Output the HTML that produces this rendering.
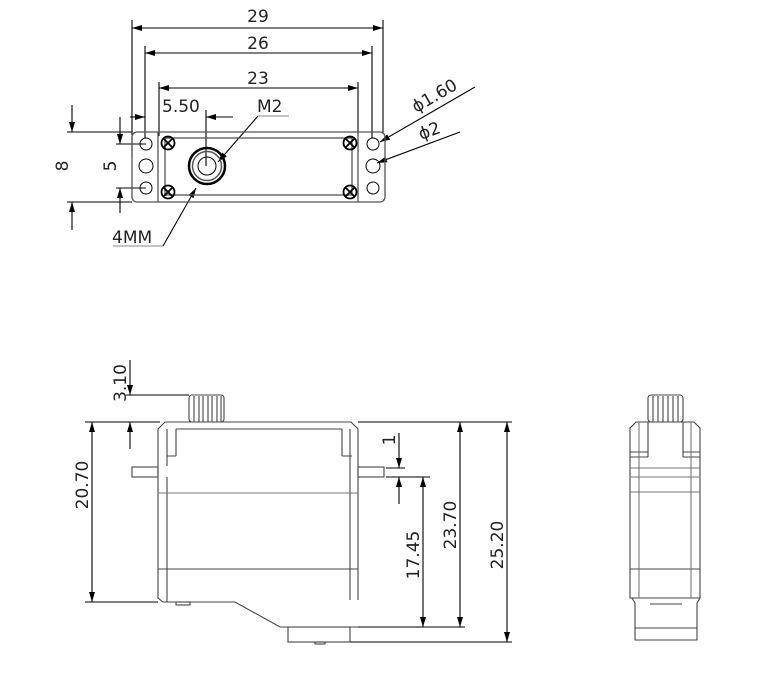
<!DOCTYPE html>
<html><head><meta charset="utf-8"><style>html,body{margin:0;padding:0;background:#fff}svg{display:block}</style></head><body>
<svg width="765" height="677" viewBox="0 0 765 677" xmlns="http://www.w3.org/2000/svg" font-family="'DejaVu Sans','Liberation Sans',sans-serif" font-size="17" fill="none">
<defs>
<marker id="a" viewBox="0 0 10 6" refX="10" refY="3" markerWidth="11" markerHeight="6" orient="auto-start-reverse" markerUnits="userSpaceOnUse"><path d="M0,0L10,3L0,6z" fill="#000"/></marker>
</defs>
<g stroke="#000" stroke-width="1.1">
<line x1="132" y1="28" x2="383" y2="28" marker-start="url(#a)" marker-end="url(#a)"/>
<line x1="145" y1="53" x2="372" y2="53" marker-start="url(#a)" marker-end="url(#a)"/>
<line x1="159" y1="88" x2="358" y2="88" marker-start="url(#a)" marker-end="url(#a)"/>
<line x1="132" y1="20" x2="132" y2="158"/><line x1="383" y1="20" x2="383" y2="134"/>
<line x1="145" y1="46" x2="145" y2="138"/><line x1="372" y1="46" x2="372" y2="138"/>
<line x1="159" y1="82" x2="159" y2="136"/><line x1="358" y1="82" x2="358" y2="136"/>
<line x1="130" y1="117" x2="145" y2="117" marker-end="url(#a)"/>
<line x1="233" y1="117" x2="206" y2="117" marker-end="url(#a)"/>
<line x1="206" y1="110" x2="206" y2="166"/>
<line x1="72" y1="105" x2="72" y2="132" marker-end="url(#a)"/>
<line x1="72" y1="230" x2="72" y2="202" marker-end="url(#a)"/>
<line x1="67" y1="132" x2="132" y2="132"/><line x1="67" y1="202" x2="132" y2="202"/>
<line x1="120" y1="117" x2="120" y2="144" marker-end="url(#a)"/>
<line x1="120" y1="213" x2="120" y2="188" marker-end="url(#a)"/>
<line x1="116" y1="144" x2="146" y2="144"/><line x1="116" y1="188" x2="146" y2="188"/>
<line x1="258" y1="116" x2="218" y2="162" marker-end="url(#a)"/><line x1="258" y1="116" x2="289" y2="116" stroke="#888"/>
<line x1="163" y1="246" x2="196" y2="188" marker-end="url(#a)"/><line x1="113" y1="246" x2="163" y2="246" stroke="#888"/>
<line x1="475" y1="87" x2="380" y2="142" marker-end="url(#a)"/>
<line x1="460" y1="132" x2="377" y2="163" marker-end="url(#a)"/>
</g>
<g stroke="#555" stroke-width="1.3">
<rect x="132" y="132" width="253" height="70" rx="5"/>
<line x1="158" y1="132" x2="158" y2="202"/><line x1="358" y1="132" x2="358" y2="202"/>
<rect x="165" y="138" width="187" height="57"/>
</g>
<g stroke="#000" stroke-width="1">
<circle cx="146" cy="144" r="6"/><circle cx="146" cy="166" r="7"/><circle cx="146" cy="188" r="6"/>
<circle cx="373" cy="144" r="6"/><circle cx="373" cy="166" r="7"/><circle cx="373" cy="188" r="6"/>
</g>
<g stroke="#000" stroke-width="1.8">
<g><circle cx="168" cy="143" r="6.5"/><path d="M164,139l8,8M172,139l-8,8"/></g>
<g><circle cx="168" cy="192" r="6.5"/><path d="M164,188l8,8M172,188l-8,8"/></g>
<g><circle cx="350" cy="143" r="6.5"/><path d="M346,139l8,8M354,139l-8,8"/></g>
<g><circle cx="350" cy="192" r="6.5"/><path d="M346,188l8,8M354,188l-8,8"/></g>
<circle cx="207" cy="166" r="18" stroke-width="2.5"/>
<circle cx="207" cy="166" r="14.5" stroke-width="1.5" stroke="#555"/>
<circle cx="207" cy="166" r="9" stroke-width="1"/>
</g>
<g fill="#222" stroke="none">
<text x="258" y="22" text-anchor="middle">29</text>
<text x="258" y="49" text-anchor="middle">26</text>
<text x="258" y="84" text-anchor="middle">23</text>
<text x="162" y="112">5.50</text>
<text x="257" y="112">M2</text>
<text x="112" y="243">4MM</text>
<text transform="translate(68,166) rotate(-90)" text-anchor="middle">8</text>
<text transform="translate(116,166) rotate(-90)" text-anchor="middle">5</text>
<text transform="translate(416,113) rotate(-30)">ϕ1.60</text>
<text transform="translate(421,140) rotate(-20)">ϕ2</text>
</g>
<g stroke="#000" stroke-width="1.1">
<line x1="130" y1="360" x2="130" y2="395" marker-end="url(#a)"/>
<line x1="130" y1="449" x2="130" y2="422" marker-end="url(#a)"/>
<line x1="126" y1="395" x2="189" y2="395"/>
<line x1="85" y1="422" x2="160" y2="422"/>
<line x1="92" y1="422" x2="92" y2="602" marker-start="url(#a)" marker-end="url(#a)"/>
<line x1="85" y1="602" x2="158" y2="602"/>
<line x1="399" y1="433" x2="399" y2="468" marker-end="url(#a)"/>
<line x1="399" y1="504" x2="399" y2="477" marker-end="url(#a)"/>
<line x1="386" y1="468" x2="405" y2="468"/><line x1="386" y1="477" x2="430" y2="477"/>
<line x1="423" y1="477" x2="423" y2="627" marker-start="url(#a)" marker-end="url(#a)"/>
<line x1="460" y1="422" x2="460" y2="627" marker-start="url(#a)" marker-end="url(#a)"/>
<line x1="507" y1="422" x2="507" y2="642" marker-start="url(#a)" marker-end="url(#a)"/>
<line x1="358" y1="422" x2="512" y2="422"/>
<line x1="358" y1="627" x2="465" y2="627"/>
<line x1="350" y1="642" x2="512" y2="642"/>
</g>
<g stroke="#444" stroke-width="1.1">
<rect x="189" y="395" width="35" height="27" rx="3"/>
<path d="M194,396v26M199,396v26M203,396v26M208,396v26M212,396v26M217,396v26M221,396v26"/>
<path d="M165,422H351L358,429V600M165,422L158,429V598L163,602H235L280,627H358"/>
<rect x="132" y="467" width="26" height="10"/><rect x="358" y="467" width="26" height="10"/>
<path d="M167,429V466M176,429V456M167,456H176M176,429H342M342,429V456M342,456H352M350,429V600M167,477V602"/>
<path d="M158,493H358" stroke="#777"/>
<path d="M158,569H358"/>
<rect x="288" y="627" width="62" height="15"/>
<rect x="176" y="602" width="14" height="3"/><rect x="315" y="642" width="10" height="2"/>
</g>
<g fill="#222" stroke="none">
<text transform="translate(126,383) rotate(-90)" text-anchor="middle">3.10</text>
<text transform="translate(88,485) rotate(-90)" text-anchor="middle">20.70</text>
<text transform="translate(395,440) rotate(-90)" text-anchor="middle">1</text>
<text transform="translate(419,555) rotate(-90)" text-anchor="middle">17.45</text>
<text transform="translate(456,525) rotate(-90)" text-anchor="middle">23.70</text>
<text transform="translate(503,545) rotate(-90)" text-anchor="middle">25.20</text>
</g>
<g stroke="#444" stroke-width="1.1">
<rect x="648" y="395" width="35" height="27" rx="3"/>
<path d="M653,396v26M658,396v26M663,396v26M668,396v26M673,396v26M678,396v26"/>
<path d="M636,422H694L700,428V598H630V428Z"/>
<path d="M648,422V457M683,422V457M630,452H648M683,452H700M630,457H648M683,457H700"/>
<path d="M630,468H700M630,477H700M630,492H700" stroke="#777"/>
<path d="M630,569H700"/>
<path d="M639,422V598M691,422V598" stroke="#777"/>
<path d="M632,598L635,603V640H697V603L700,598M635,628H697M650,604H682"/>
</g>
</svg>
</body></html>
